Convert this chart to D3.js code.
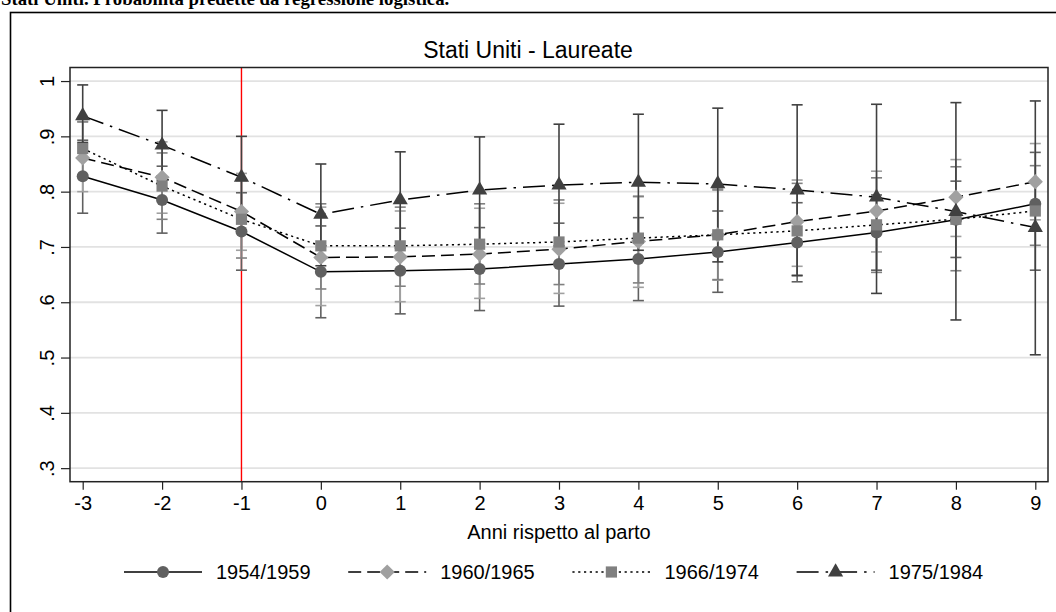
<!DOCTYPE html>
<html>
<head>
<meta charset="utf-8">
<script src="https://cdn.jsdelivr.net/npm/d3@7"></script>
<style>
  body { margin: 0; background: #fff; }
  svg { display: block; font-family: "Liberation Sans", Arial, Helvetica, sans-serif; }
</style>
</head>
<body>
<svg id="chart" width="1056" height="612"></svg>
<script>
// Years relative to childbirth (x axis)
const years = [-3, -2, -1, 0, 1, 2, 3, 4, 5, 6, 7, 8, 9];
const xTickLabels = ["-3", "-2", "-1", "0", "1", "2", "3", "4", "5", "6", "7", "8", "9"];
const yTicks = [0.3, 0.4, 0.5, 0.6, 0.7, 0.8, 0.9, 1.0];
const yTickLabels = [".3", ".4", ".5", ".6", ".7", ".8", ".9", "1"];
const cohorts = ["1954/1959", "1960/1965", "1966/1974", "1975/1984"];

// Predicted probabilities and confidence bounds by birth cohort
const p1954  = [0.828, 0.785, 0.728, 0.655, 0.657, 0.660, 0.669, 0.678, 0.691, 0.708, 0.726, 0.749, 0.778];
const lo1954 = [0.761, 0.725, 0.658, 0.572, 0.579, 0.585, 0.593, 0.603, 0.618, 0.637, 0.658, 0.681, 0.658];
const hi1954 = [0.893, 0.846, 0.798, 0.738, 0.734, 0.735, 0.743, 0.753, 0.765, 0.780, 0.794, 0.819, 0.871];

const p1960  = [0.861, 0.826, 0.764, 0.681, 0.682, 0.687, 0.696, 0.710, 0.722, 0.746, 0.765, 0.790, 0.818];
const lo1960 = [0.800, 0.761, 0.694, 0.594, 0.601, 0.607, 0.616, 0.627, 0.640, 0.665, 0.691, 0.719, 0.749];
const hi1960 = [0.927, 0.890, 0.833, 0.772, 0.765, 0.770, 0.779, 0.792, 0.805, 0.821, 0.837, 0.858, 0.887];

const p1966  = [0.878, 0.810, 0.750, 0.702, 0.702, 0.705, 0.709, 0.716, 0.722, 0.729, 0.740, 0.750, 0.765];
const lo1966 = [0.830, 0.750, 0.680, 0.624, 0.629, 0.633, 0.632, 0.635, 0.641, 0.649, 0.654, 0.657, 0.703];
const hi1966 = [0.926, 0.870, 0.820, 0.778, 0.772, 0.778, 0.785, 0.791, 0.803, 0.815, 0.825, 0.845, 0.847];

const p1975  = [0.937, 0.884, 0.826, 0.759, 0.785, 0.803, 0.812, 0.817, 0.814, 0.803, 0.790, 0.764, 0.735];
const lo1975 = [0.889, 0.821, 0.752, 0.666, 0.698, 0.707, 0.702, 0.694, 0.673, 0.648, 0.616, 0.568, 0.505];
const hi1975 = [0.993, 0.947, 0.900, 0.850, 0.872, 0.899, 0.922, 0.940, 0.951, 0.957, 0.958, 0.961, 0.964];

const series = [
  { name: cohorts[0], p: p1954, lo: lo1954, hi: hi1954, color: "#606060", dash: null,          symbol: "circle" },
  { name: cohorts[1], p: p1960, lo: lo1960, hi: hi1960, color: "#a0a0a0", dash: "13,6",        symbol: "diamond" },
  { name: cohorts[2], p: p1966, lo: lo1966, hi: hi1966, color: "#808080", dash: "2.2,3.6",     symbol: "square" },
  { name: cohorts[3], p: p1975, lo: lo1975, hi: hi1975, color: "#404040", dash: "22,7,2.5,7",  symbol: "triangle" }
];

const svg = d3.select("#chart");
const plot = { left: 70, right: 1048, top: 67.5, bottom: 481.7 };

const x = d3.scaleLinear().domain([-3.16, 9.16]).range([plot.left, plot.right]);
const y = d3.scaleLinear().domain([0.2755, 1.0245]).range([plot.bottom, plot.top]);

// Outer graph frame
svg.append("rect")
  .attr("x", 10.5).attr("y", 12.5)
  .attr("width", 1060).attr("height", 620)
  .attr("fill", "none").attr("stroke", "#000").attr("stroke-width", 1.6);

// Report heading (partly above the page edge)
svg.append("text")
  .attr("x", 1).attr("y", 5)
  .attr("font-family", "'Liberation Serif', 'Times New Roman', serif")
  .attr("font-weight", "bold").attr("font-size", 18.8)
  .text("Stati Uniti. Probabilità predette da regressione logistica.");

// Chart title
svg.append("text")
  .attr("x", 528).attr("y", 58.3)
  .attr("text-anchor", "middle").attr("font-size", 23)
  .text("Stati Uniti - Laureate");

// Horizontal grid
svg.append("g").selectAll("line").data(yTicks).join("line")
  .attr("x1", plot.left).attr("x2", plot.right)
  .attr("y1", d => y(d)).attr("y2", d => y(d))
  .attr("stroke", "#e2e2e2").attr("stroke-width", 1.8);

// Reference line at the year before childbirth
svg.append("line")
  .attr("x1", x(-1)).attr("x2", x(-1))
  .attr("y1", plot.top).attr("y2", plot.bottom)
  .attr("stroke", "#ff0000").attr("stroke-width", 1.4);

// Axes
const yAxis = d3.axisLeft(y).tickValues(yTicks)
  .tickFormat((d, i) => yTickLabels[i]).tickSize(9).tickPadding(4);
const gy = svg.append("g").attr("transform", `translate(${plot.left},0)`).call(yAxis);
gy.select(".domain").remove();
gy.selectAll(".tick line").attr("stroke", "#222").attr("stroke-width", 1.2);
gy.selectAll(".tick text")
  .attr("font-size", 20).attr("fill", "#000")
  .attr("text-anchor", "middle").attr("dy", 0)
  .attr("x", 0).attr("y", 0)
  .attr("transform", "translate(-16,0) rotate(-90)");

const xAxis = d3.axisBottom(x).tickValues(years)
  .tickFormat((d, i) => xTickLabels[i]).tickSize(8).tickPadding(6);
const gx = svg.append("g").attr("transform", `translate(0,${plot.bottom})`).call(xAxis);
gx.select(".domain").remove();
gx.selectAll(".tick line").attr("stroke", "#222").attr("stroke-width", 1.2);
gx.selectAll(".tick text").attr("font-size", 20).attr("fill", "#000");

// Plot region border
svg.append("rect")
  .attr("x", plot.left).attr("y", plot.top)
  .attr("width", plot.right - plot.left).attr("height", plot.bottom - plot.top)
  .attr("fill", "none").attr("stroke", "#222").attr("stroke-width", 1.5);

// Axis title
svg.append("text")
  .attr("x", (plot.left + plot.right) / 2).attr("y", 539)
  .attr("text-anchor", "middle").attr("font-size", 20)
  .text("Anni rispetto al parto");

// Marker shapes
function markerPath(sym) {
  switch (sym) {
    case "circle":   return "M6,0A6,6 0 1,1 -6,0A6,6 0 1,1 6,0Z";
    case "diamond":  return "M0,-7.6L7.6,0L0,7.6L-7.6,0Z";
    case "square":   return "M-5.6,-5.6H5.6V5.6H-5.6Z";
    case "triangle": return "M0,-8.8L7.6,4.4L-7.6,4.4Z";
  }
}

// Confidence interval caps
const capHalf = 5.5;
series.forEach(s => {
  const g = svg.append("g").attr("stroke", s.color).attr("stroke-width", 1.6).attr("fill", "none");
  years.forEach((yr, i) => {
    const cx = x(yr);
    g.append("line").attr("x1", cx).attr("x2", cx).attr("y1", y(s.lo[i])).attr("y2", y(s.hi[i]));
    g.append("line").attr("x1", cx - capHalf).attr("x2", cx + capHalf).attr("y1", y(s.lo[i])).attr("y2", y(s.lo[i]));
    g.append("line").attr("x1", cx - capHalf).attr("x2", cx + capHalf).attr("y1", y(s.hi[i])).attr("y2", y(s.hi[i]));
  });
});

// Connected lines with markers
const line = d3.line().x((d, i) => x(years[i])).y(d => y(d));
series.forEach(s => {
  svg.append("path")
    .attr("d", line(s.p))
    .attr("fill", "none").attr("stroke", "#000").attr("stroke-width", 1.5)
    .attr("stroke-dasharray", s.dash);
  svg.append("g").selectAll("path").data(s.p).join("path")
    .attr("d", markerPath(s.symbol))
    .attr("transform", (d, i) => `translate(${x(years[i])},${y(d)})`)
    .attr("fill", s.color);
});

// Legend
const legendY = 572;
const legend = svg.append("g");
series.forEach((s, i) => {
  const x0 = 124 + i * 224.2;
  const item = legend.append("g");
  item.append("line")
    .attr("x1", x0).attr("x2", x0 + 78)
    .attr("y1", legendY).attr("y2", legendY)
    .attr("stroke", "#000").attr("stroke-width", 1.5)
    .attr("stroke-dasharray", s.dash);
  item.append("path")
    .attr("d", markerPath(s.symbol))
    .attr("transform", `translate(${x0 + 39},${legendY})`)
    .attr("fill", s.color);
  item.append("text")
    .attr("x", x0 + 92).attr("y", legendY + 7)
    .attr("font-size", 20)
    .text(s.name);
});
</script>
</body>
</html>
